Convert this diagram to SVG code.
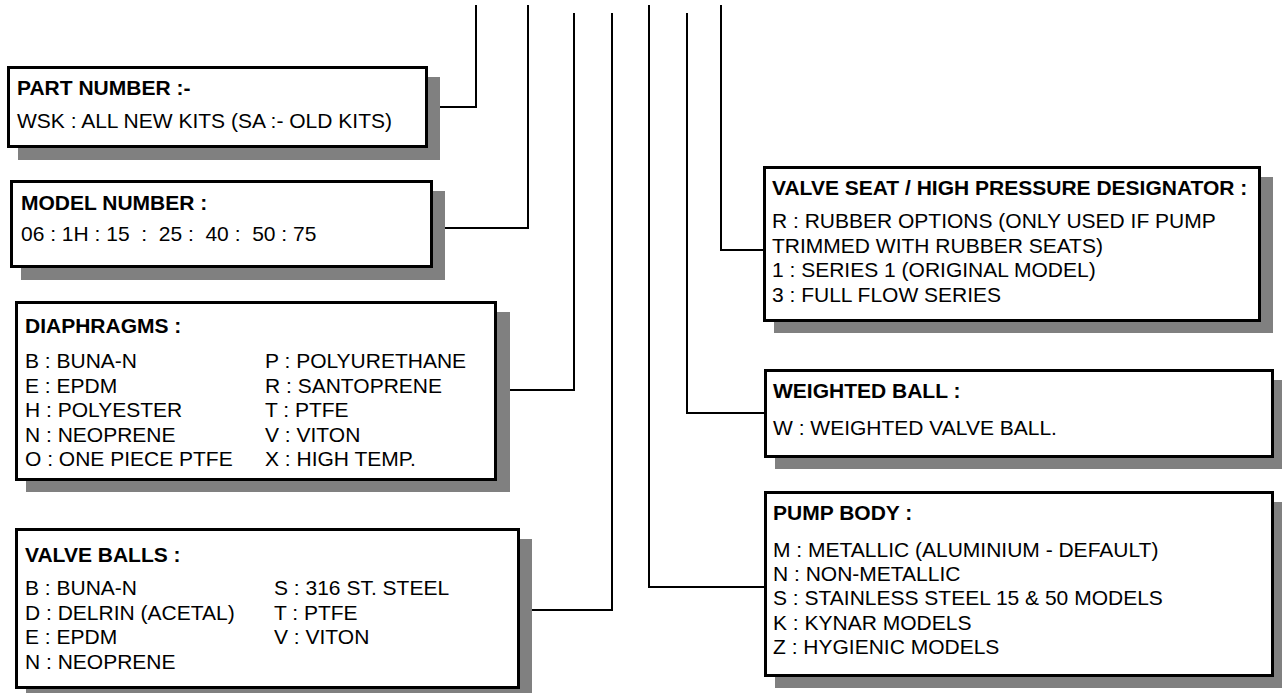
<svg xmlns="http://www.w3.org/2000/svg" width="1282" height="693" viewBox="0 0 1282 693">
<style>
.sh{fill:#808080;stroke:none}
.bx{fill:#fff;stroke:#000;stroke-width:3}
.t{font-family:"Liberation Sans",Arial,sans-serif;font-size:21px;fill:#000;white-space:pre}
.b{font-weight:bold}
.c{fill:none;stroke:#000;stroke-width:2}
</style>
<rect width="1282" height="693" fill="#fff"/>
<g id="connectors">
<polyline class="c" points="440,107 476,107 476,5"/>
<polyline class="c" points="445,228 528,228 528,5"/>
<polyline class="c" points="510,390 574,390 574,13"/>
<polyline class="c" points="532,610 612,610 612,13"/>
<polyline class="c" points="764,587 649,587 649,5"/>
<polyline class="c" points="764,413 687,413 687,13"/>
<polyline class="c" points="763,250 721,250 721,5"/>
</g>
<g id="part-number">
<rect class="sh" x="18" y="77" width="422" height="83"/>
<rect class="bx" x="8.5" y="67.5" width="418" height="79"/>
<text class="t b" x="17" y="95">PART NUMBER :-</text>
<text class="t" x="17" y="128">WSK : ALL NEW KITS (SA :- OLD KITS)</text>
</g>
<g id="model-number">
<rect class="sh" x="21" y="191" width="424" height="89"/>
<rect class="bx" x="11.5" y="181.5" width="420" height="85"/>
<text class="t b" x="21" y="210">MODEL NUMBER :</text>
<text class="t" x="21" y="241" xml:space="preserve">06 : 1H : 15  :  25 :  40 :  50 : 75</text>
</g>
<g id="diaphragms">
<rect class="sh" x="26" y="312" width="484" height="180"/>
<rect class="bx" x="16.5" y="302.5" width="479" height="177"/>
<text class="t b" x="25" y="333">DIAPHRAGMS :</text>
<text class="t" x="25" y="368">B : BUNA-N</text>
<text class="t" x="25" y="392.5">E : EPDM</text>
<text class="t" x="25" y="417">H : POLYESTER</text>
<text class="t" x="25" y="441.5">N : NEOPRENE</text>
<text class="t" x="25" y="466">O : ONE PIECE PTFE</text>
<text class="t" x="265" y="368">P : POLYURETHANE</text>
<text class="t" x="265" y="392.5">R : SANTOPRENE</text>
<text class="t" x="265" y="417">T : PTFE</text>
<text class="t" x="265" y="441.5">V : VITON</text>
<text class="t" x="265" y="466">X : HIGH TEMP.</text>
</g>
<g id="valve-balls">
<rect class="sh" x="26" y="539" width="506" height="161"/>
<rect class="bx" x="16.5" y="529.5" width="502" height="158"/>
<text class="t b" x="25" y="562">VALVE BALLS :</text>
<text class="t" x="25" y="595">B : BUNA-N</text>
<text class="t" x="25" y="619.5">D : DELRIN (ACETAL)</text>
<text class="t" x="25" y="644">E : EPDM</text>
<text class="t" x="25" y="668.5">N : NEOPRENE</text>
<text class="t" x="274" y="595">S : 316 ST. STEEL</text>
<text class="t" x="274" y="619.5">T : PTFE</text>
<text class="t" x="274" y="644">V : VITON</text>
</g>
<g id="valve-seat">
<rect class="sh" x="774" y="177" width="499" height="156"/>
<rect class="bx" x="764.5" y="167.5" width="495" height="153"/>
<text class="t b" x="772" y="195">VALVE SEAT / HIGH PRESSURE DESIGNATOR :</text>
<text class="t" x="772" y="228">R : RUBBER OPTIONS (ONLY USED IF PUMP</text>
<text class="t" x="772" y="252.5">TRIMMED WITH RUBBER SEATS)</text>
<text class="t" x="772" y="277">1 : SERIES 1 (ORIGINAL MODEL)</text>
<text class="t" x="772" y="301.5">3 : FULL FLOW SERIES</text>
</g>
<g id="weighted-ball">
<rect class="sh" x="775" y="380" width="511" height="89"/>
<rect class="bx" x="765.5" y="370.5" width="507" height="86"/>
<text class="t b" x="773" y="398">WEIGHTED BALL :</text>
<text class="t" x="773" y="435">W : WEIGHTED VALVE BALL.</text>
</g>
<g id="pump-body">
<rect class="sh" x="775" y="502" width="511" height="186"/>
<rect class="bx" x="765.5" y="492.5" width="507" height="183"/>
<text class="t b" x="773" y="520">PUMP BODY :</text>
<text class="t" x="773" y="557">M : METALLIC (ALUMINIUM - DEFAULT)</text>
<text class="t" x="773" y="581">N : NON-METALLIC</text>
<text class="t" x="773" y="605">S : STAINLESS STEEL 15 &amp; 50 MODELS</text>
<text class="t" x="773" y="629.5">K : KYNAR MODELS</text>
<text class="t" x="773" y="654">Z : HYGIENIC MODELS</text>
</g>
</svg>
